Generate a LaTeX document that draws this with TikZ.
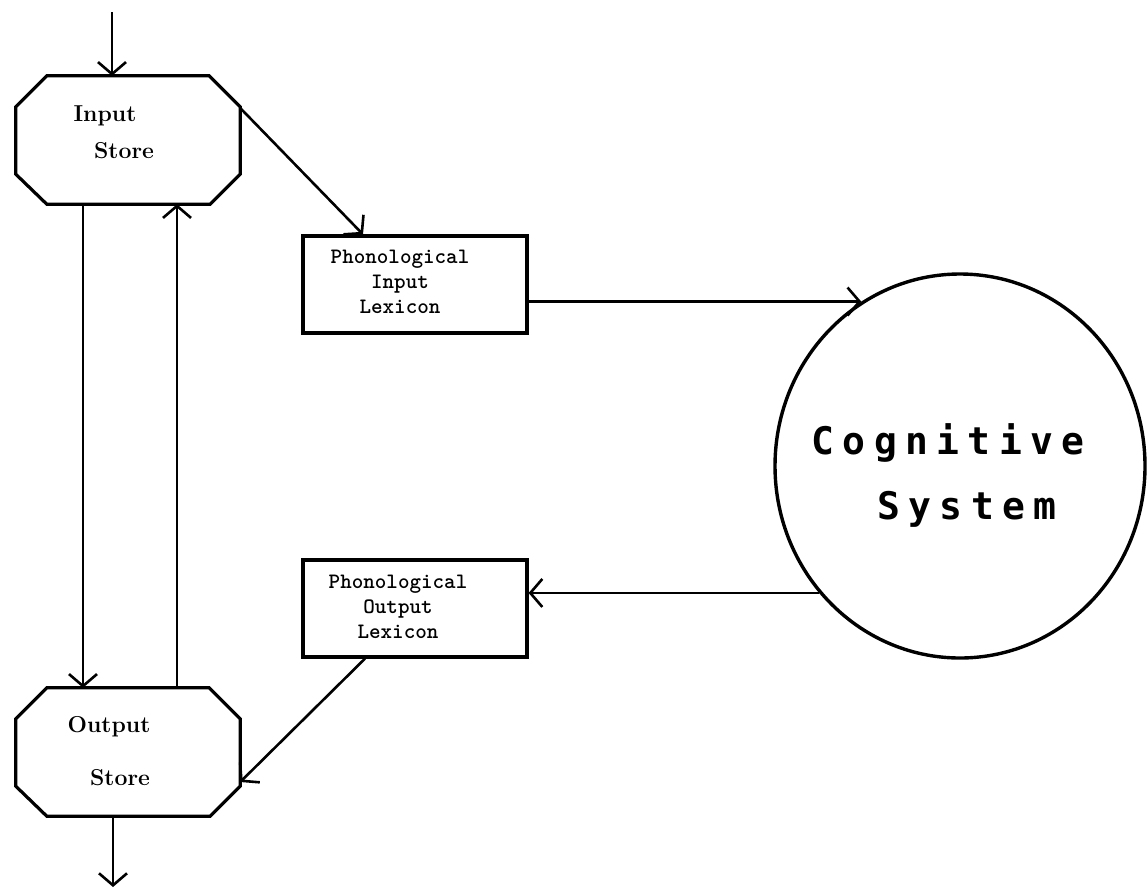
\documentclass[tikz,border=0pt]{standalone}
\usepackage{fontspec}
\usetikzlibrary{arrows.meta,shapes.geometric}
\newfontfamily\cogfont[LetterSpace=22]{DejaVu Sans Mono Bold}
% octagonal outline drawn round a named, invisible frame node
\newcommand\octframe[1]{%
  \draw[frame]
    ([xshift=31pt]#1.north west) -- ([xshift=-31pt]#1.north east)
    -- ([yshift=-31pt]#1.north east) -- ([yshift=30pt]#1.south east)
    -- ([xshift=-30pt]#1.south east) -- ([xshift=31pt]#1.south west)
    -- ([yshift=30pt]#1.south west) -- ([yshift=-31pt]#1.north west) -- cycle;}
\begin{document}
\begin{tikzpicture}[x=1pt,y=-1pt,
  frame/.style={line width=3.2pt, line join=miter},
  store/.style={minimum width=224pt, minimum height=128pt, inner sep=0pt},
  lexbox/.style={draw, line width=3.2pt, minimum width=224pt, minimum height=97pt, inner sep=0pt},
  storetxt/.style={font=\fontsize{23}{26}\selectfont\bfseries, inner sep=0pt},
  lextxt/.style={font=\fontsize{22}{25}\selectfont\ttfamily\bfseries, align=center, inner sep=0pt},
  cogtxt/.style={font=\fontsize{38}{40}\selectfont\cogfont, inner sep=0pt},
  arr/.style={line width=2.6pt, -{Straight Barb[length=12pt,width=28pt]}}
]
\useasboundingbox[fill=white] (0,0) rectangle (1147,889);

% the two stores
\node[store] (is) at (128,140) {};
\node[store] (os) at (128,752) {};
\octframe{is}
\octframe{os}
\node[storetxt] (is-a) at (105,116) {Input};
\node[storetxt] (is-b) at (124,151) {Store};
\node[storetxt] (os-a) at (109,727) {Output};
\node[storetxt] (os-b) at (120,778) {Store};

% the two lexicons
\node[lexbox] (pil) at (415,284.5) {};
\node[lexbox] (pol) at (415,608.5) {};
\node[lextxt] (pil-t) at (400,282) {Phonological\\Input\\Lexicon};
\node[lextxt] (pol-t) at (398,607) {Phonological\\Output\\Lexicon};

% cognitive system
\node[draw, ellipse, line width=3.4pt, minimum width=370pt, minimum height=384pt, inner sep=0pt] (cs) at (960,466) {};
\node[cogtxt] (cs-a) at (948,443) {Cognitive};
\node[cogtxt] (cs-b) at (967,509) {System};

% free ends of the way in and out
\coordinate (in) at (112,12);
\coordinate (out) at (113,887);

% connectors
\draw[arr] (in) -- ([xshift=-16pt]is.north);
\draw[arr] ([xshift=-15pt]os.south) -- (out);
\draw[arr] ([xshift=-45pt]is.south) -- ([xshift=-45pt]os.north);
\draw[arr] ([xshift=49pt]os.north) -- ([xshift=49pt]is.south);
\draw[arr] ([yshift=32pt]is.east) -- ([xshift=-52pt]pil.north);
\draw[arr] ([yshift=-17pt]pil.east) -- ([yshift=-17pt]pil.east -| cs.121);
\draw[arr] (cs.222) -- (cs.222 -| pol.east);
\draw[arr] ([xshift=-50pt]pol.south) -- ([yshift=-30pt]os.east);
\end{tikzpicture}
\end{document}
